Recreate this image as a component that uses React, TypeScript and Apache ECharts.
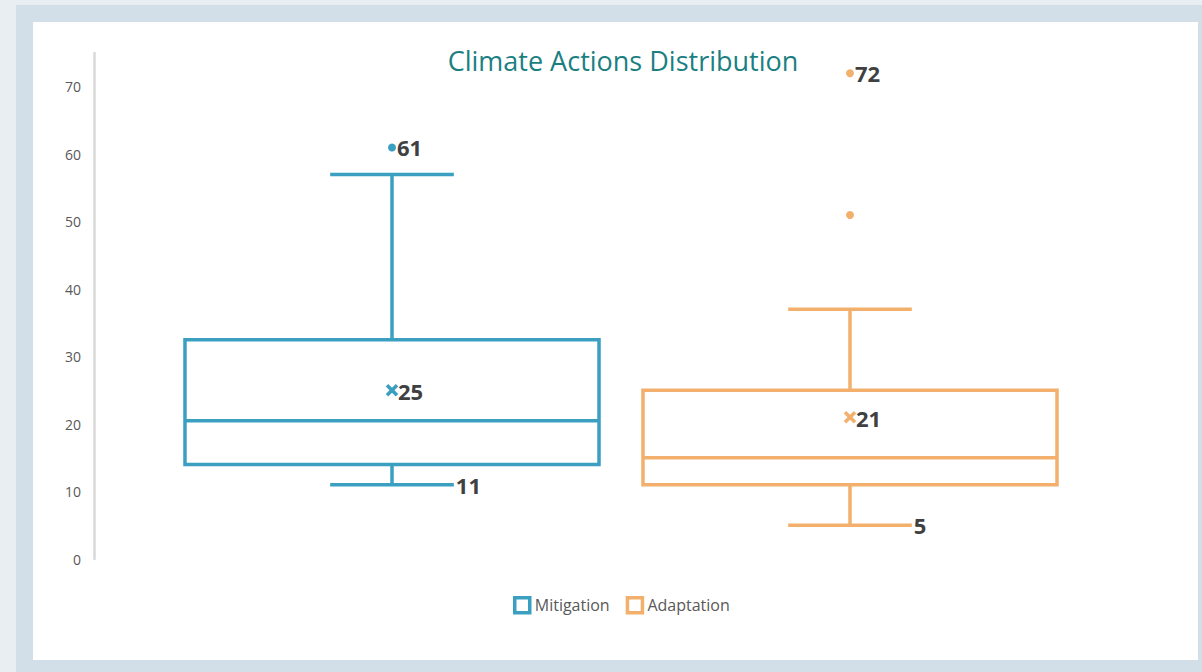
import React, { useEffect, useRef } from "react";
import * as echarts from "echarts";

const categories = ["Mitigation", "Adaptation"];
const seriesColors = ["#3A9FC0", "#F2B06C"];
const whiskerLow = [11, 5];
const quartile1 = [14, 11];
const medians = [20.5, 15];
const quartile3 = [32.5, 25];
const whiskerHigh = [57, 37];
const means = [25, 21];
const outliers = [[61], [51, 72]];
const outlierLabelShown = [[true], [false, true]];
const yTicks = [0, 10, 20, 30, 40, 50, 60, 70];

export default function App() {
  const ref = useRef<HTMLDivElement>(null);

  useEffect(() => {
    document.body.style.margin = "0";
    if (!ref.current) return;
    const chart = echarts.init(ref.current, null, { renderer: "svg" });
    const labelColor = "#404040";
    const labelFont = { fontFamily: "Open Sans", fontWeight: "bold", fontSize: 22 };

    const boxSeries = categories.map((name, i) => ({
      name,
      type: "custom",
      itemStyle: { color: seriesColors[i] },
      data: [[i, whiskerLow[i], quartile1[i], medians[i], quartile3[i], whiskerHigh[i], means[i]]],
      renderItem: (params: any, api: any) => {
        const idx = api.value(0);
        const color = seriesColors[i];
        const band = api.size([1, 0])[0];
        const bw = band * 0.904;
        const cw = band * 0.27;
        const [x, yLow] = api.coord([idx, api.value(1)]);
        const yQ1 = api.coord([idx, api.value(2)])[1];
        const yMed = api.coord([idx, api.value(3)])[1];
        const yQ3 = api.coord([idx, api.value(4)])[1];
        const yHigh = api.coord([idx, api.value(5)])[1];
        const yMean = api.coord([idx, api.value(6)])[1];
        const ls = { stroke: color, lineWidth: 3.5, fill: "none" };
        const m = 5;
        return {
          type: "group",
          children: [
            { type: "line", shape: { x1: x, y1: yQ3, x2: x, y2: yHigh }, style: ls },
            { type: "line", shape: { x1: x - cw / 2, y1: yHigh, x2: x + cw / 2, y2: yHigh }, style: ls },
            { type: "line", shape: { x1: x, y1: yQ1, x2: x, y2: yLow }, style: ls },
            { type: "line", shape: { x1: x - cw / 2, y1: yLow, x2: x + cw / 2, y2: yLow }, style: ls },
            { type: "rect", shape: { x: x - bw / 2, y: yQ3, width: bw, height: yQ1 - yQ3 }, style: { stroke: color, lineWidth: 3.5, fill: "#fff" } },
            { type: "line", shape: { x1: x - bw / 2, y1: yMed, x2: x + bw / 2, y2: yMed }, style: ls },
            { type: "line", shape: { x1: x - m, y1: yMean - m, x2: x + m, y2: yMean + m }, style: ls },
            { type: "line", shape: { x1: x - m, y1: yMean + m, x2: x + m, y2: yMean - m }, style: ls },
            {
              type: "text",
              x: x + 6,
              y: yMean + 1,
              style: { text: String(api.value(6)), ...labelFont, fill: labelColor, textAlign: "left", textVerticalAlign: "middle" },
            },
            {
              type: "text",
              x: x + cw / 2 + 2,
              y: yLow,
              style: { text: String(api.value(1)), ...labelFont, fill: labelColor, textAlign: "left", textVerticalAlign: "middle" },
            },
          ],
        };
      },
      z: 2,
    }));

    const outlierSeries = categories.map((name, i) => ({
      name,
      type: "scatter",
      symbol: "circle",
      symbolSize: 8,
      itemStyle: { color: seriesColors[i], opacity: 1 },
      data: outliers[i].map((v, k) => ({
        value: [i, v],
        label: {
          show: outlierLabelShown[i][k],
          position: "right",
          distance: 1,
          formatter: String(v),
          color: labelColor,
          opacity: 1,
          ...labelFont,
        },
      })),
      z: 3,
    }));

    chart.setOption({
      animation: false,
      title: {
        text: "Climate Actions Distribution",
        left: 618,
        top: 42,
        textAlign: "center",
        textStyle: { fontFamily: "Open Sans", fontWeight: "normal", fontSize: 27, color: "#1B7F82" },
      },
      legend: {
        left: 508,
        top: 591,
        icon: "rect",
        itemWidth: 15,
        itemHeight: 15,
        itemGap: 16,
        textStyle: { fontFamily: "Open Sans", fontSize: 16, color: "#595959" },
        data: categories.map((name, i) => ({
          name,
          itemStyle: { color: "#fff", borderColor: seriesColors[i], borderWidth: 3.5 },
        })),
      },
      grid: { left: 163, right: 123, top: 53, bottom: 113 },
      xAxis: {
        type: "category",
        data: categories,
        show: false,
      },
      yAxis: {
        type: "value",
        min: 0,
        max: 75,
        interval: 10,
        offset: 69,
        splitLine: { show: false },
        axisTick: { show: false },
        axisLine: { show: true, lineStyle: { color: "#D9D9D9", width: 2.5 } },
        axisLabel: {
          showMaxLabel: false,
          margin: 13,
          color: "#595959",
          fontFamily: "Open Sans",
          fontSize: 14,
          formatter: (v: number) => (yTicks.includes(v) ? String(v) : ""),
        },
      },
      series: [...boxSeries, ...outlierSeries],
    });

    return () => chart.dispose();
  }, []);

  return (
    <div style={{ position: "relative", width: 1202, height: 672, background: "#E9EEF3", overflow: "hidden" }}>
      <div style={{ position: "absolute", left: 16, top: 5, width: 1186, height: 667, background: "#D3DFE8" }} />
      <div style={{ position: "absolute", left: 33, top: 22, width: 1165, height: 638, background: "#FFFFFF" }} />
      <div ref={ref} style={{ position: "absolute", left: 0, top: 0, width: 1202, height: 672 }} />
    </div>
  );
}
